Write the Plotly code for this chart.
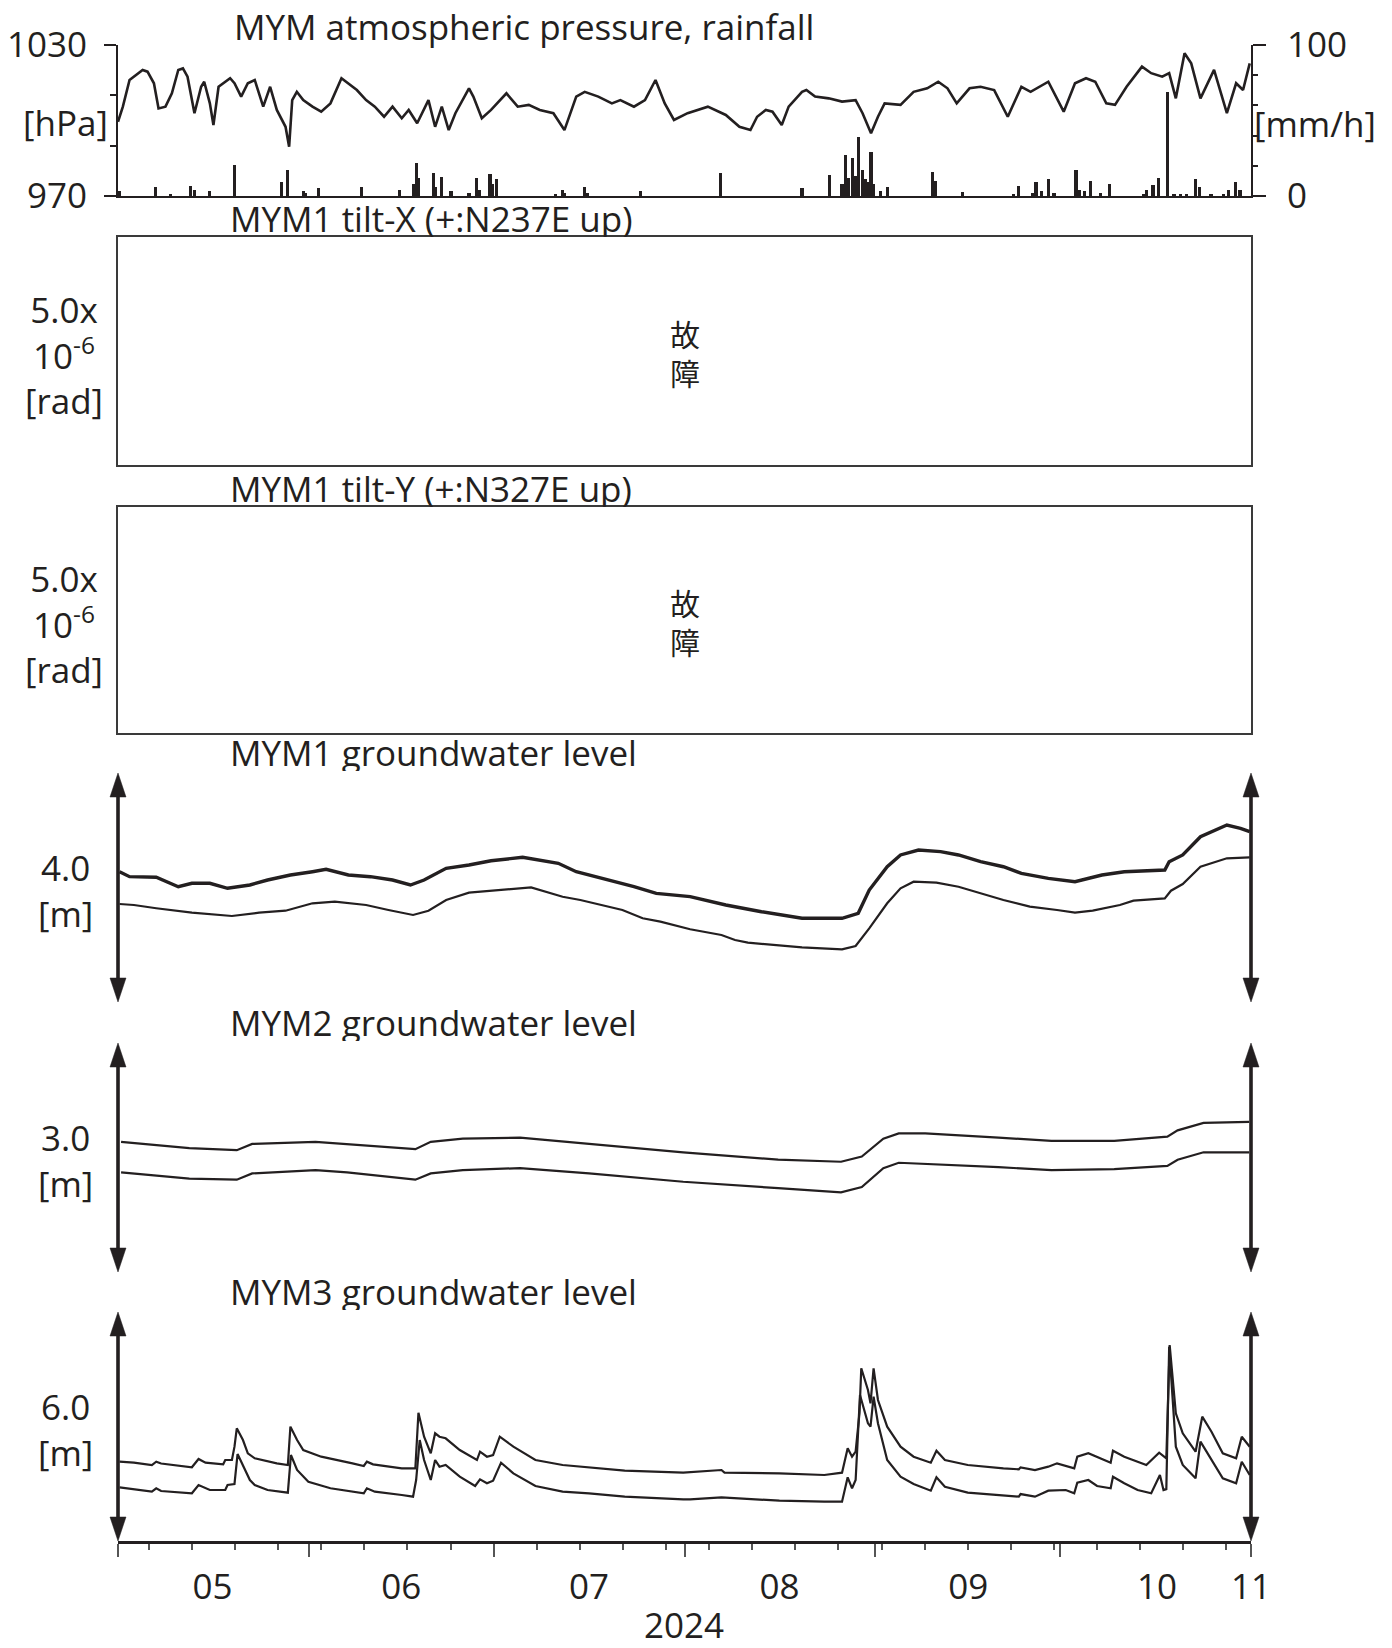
import plotly.graph_objects as go

YEAR = "2024"

# ---------------- calendar axis ----------------
X_START, X_END = "05-01 00:00", "11-01 00:00"
MONTH_STARTS = ["05-01", "06-01", "07-01", "08-01", "09-01", "10-01", "11-01"]
WEEK_TICKS = ["05-06", "05-13", "05-20", "05-27", "06-03", "06-10", "06-17", "06-24",
              "07-01", "07-08", "07-15", "07-22", "07-29", "08-05", "08-12", "08-19",
              "08-26", "09-02", "09-09", "09-16", "09-23", "09-30", "10-07", "10-14",
              "10-21", "10-28"]
MONTH_LABEL_POS = ["05-16 08:00", "06-16 00:00", "07-16 12:00", "08-16 10:00",
                   "09-16 02:00", "10-16 18:00", "11-01 00:00"]
MONTH_LABELS = ["05", "06", "07", "08", "09", "10", "11"]

# ---------------- atmospheric pressure [hPa] ----------------
PRESSURE_TIME = [
    "05-01 00:00", "05-01 19:00", "05-02 21:00", "05-03 14:00", "05-05 00:00", "05-05 19:00",
    "05-06 20:00", "05-07 14:00", "05-08 17:00", "05-09 18:00", "05-10 19:00", "05-11 13:00",
    "05-12 07:00", "05-13 10:00", "05-14 12:00", "05-15 00:00", "05-15 22:00", "05-16 12:00",
    "05-17 08:00", "05-19 05:00", "05-19 22:00", "05-21 00:00", "05-22 02:00", "05-23 05:00",
    "05-24 14:00", "05-25 17:00", "05-26 19:00", "05-28 05:00", "05-28 19:00", "05-29 07:00",
    "05-30 01:00", "05-31 02:00", "06-01 14:00", "06-03 00:00", "06-04 12:00", "06-06 07:00",
    "06-07 10:00", "06-08 19:00", "06-10 07:00", "06-11 17:00", "06-13 05:00", "06-14 14:00",
    "06-16 02:00", "06-17 05:00", "06-18 14:00", "06-20 10:00", "06-21 12:00", "06-22 14:00",
    "06-23 17:00", "06-24 19:00", "06-27 00:00", "06-27 17:00", "06-29 02:00", "06-30 14:00",
    "07-03 02:00", "07-04 22:00", "07-06 17:00", "07-08 12:00", "07-10 17:00", "07-12 12:00",
    "07-14 10:00", "07-15 19:00", "07-18 00:00", "07-20 05:00", "07-21 14:00", "07-23 19:00",
    "07-25 14:00", "07-27 07:00", "07-28 19:00", "07-30 07:00", "08-01 12:00", "08-04 19:00",
    "08-07 17:00", "08-09 22:00", "08-11 17:00", "08-12 19:00", "08-14 05:00", "08-15 07:00",
    "08-16 19:00", "08-17 22:00", "08-20 02:00", "08-20 19:00", "08-22 05:00", "08-24 10:00",
    "08-26 14:00", "08-28 19:00", "08-29 22:00", "08-31 07:00", "09-01 10:00", "09-02 12:00",
    "09-05 02:00", "09-07 05:00", "09-09 10:00", "09-11 05:00", "09-12 17:00", "09-14 05:00",
    "09-16 07:00", "09-18 02:00", "09-20 07:00", "09-22 12:00", "09-24 17:00", "09-26 05:00",
    "09-29 02:00", "10-01 14:00", "10-03 10:00", "10-05 05:00", "10-06 17:00", "10-08 12:00",
    "10-09 22:00", "10-11 19:00", "10-14 07:00", "10-15 19:00", "10-17 14:00", "10-18 17:00",
    "10-19 19:00", "10-21 05:00", "10-22 07:00", "10-23 19:00", "10-26 00:00", "10-28 02:00",
    "10-29 14:00", "10-30 17:00", "10-31 19:00"]
PRESSURE_HPA = [
    999.5, 1005.5, 1016.1, 1017.4, 1020.1, 1019.4,
    1014.8, 1004.8, 1005.5, 1010.8, 1020.1, 1020.7,
    1017.4, 1002.9, 1013.4, 1015.4, 1006.8, 998.2,
    1013.4, 1016.8, 1014.8, 1009.5, 1014.8, 1016.1,
    1005.5, 1013.4, 1004.2, 997.5, 989.6, 1008.1,
    1011.4, 1008.1, 1005.5, 1003.5, 1006.8, 1016.8,
    1014.8, 1012.1, 1008.1, 1005.5, 1001.5, 1005.5,
    1000.9, 1004.2, 998.9, 1008.1, 997.5, 1005.5,
    996.2, 1002.9, 1012.8, 1009.5, 1000.9, 1004.2,
    1010.8, 1005.5, 1006.2, 1004.2, 1002.9, 996.2,
    1009.5, 1011.4, 1009.5, 1006.8, 1008.1, 1005.5,
    1008.1, 1016.1, 1006.8, 1000.2, 1002.9, 1005.5,
    1002.2, 997.5, 996.2, 1001.5, 1004.2, 1003.5,
    998.2, 1005.5, 1011.4, 1012.1, 1009.5, 1008.8,
    1007.5, 1008.1, 1002.9, 994.9, 1001.5, 1006.8,
    1006.2, 1011.4, 1012.8, 1015.4, 1012.8, 1006.8,
    1012.8, 1013.4, 1012.1, 1001.5, 1013.4, 1011.4,
    1015.4, 1003.5, 1014.8, 1016.8, 1015.4, 1006.8,
    1006.2, 1013.4, 1021.4, 1018.8, 1017.4, 1018.8,
    1008.8, 1026.7, 1022.7, 1008.8, 1020.1, 1002.9,
    1014.8, 1012.1, 1022.7]

# ---------------- rainfall [mm/h] ----------------
RAIN_TIME = [
    "05-01 06:00", "05-07 02:00", "05-09 12:00", "05-12 19:00", "05-13 10:00", "05-15 22:00",
    "05-19 22:00", "05-27 12:00", "05-28 14:00", "05-31 02:00", "05-31 12:00", "06-02 12:00",
    "06-09 14:00", "06-15 17:00", "06-17 22:00", "06-18 12:00", "06-18 20:00", "06-21 05:00",
    "06-21 14:00", "06-22 14:00", "06-24 02:00", "06-27 00:00", "06-28 07:00", "06-28 16:00",
    "06-30 10:00", "06-30 18:00", "07-01 10:00", "07-11 00:00", "07-12 05:00", "07-12 14:00",
    "07-15 19:00", "07-16 06:00", "07-24 22:00", "08-06 19:00", "08-20 02:00", "08-24 14:00",
    "08-26 14:00", "08-27 05:00", "08-27 16:00", "08-28 05:00", "08-28 19:00", "08-29 07:00",
    "08-29 22:00", "08-30 10:00", "08-30 19:00", "08-31 07:00", "08-31 18:00", "09-01 19:00",
    "09-02 22:00", "09-10 05:00", "09-10 17:00", "09-15 02:00", "09-23 12:00", "09-24 07:00",
    "09-26 12:00", "09-27 02:00", "09-28 00:00", "09-29 02:00", "09-30 00:00", "10-03 14:00",
    "10-04 02:00", "10-05 00:00", "10-06 00:00", "10-07 12:00", "10-09 02:00", "10-14 12:00",
    "10-15 00:00", "10-16 02:00", "10-16 22:00", "10-18 10:00", "10-19 12:00", "10-20 12:00",
    "10-21 12:00", "10-23 00:00", "10-23 14:00", "10-25 12:00", "10-27 12:00", "10-28 07:00",
    "10-29 10:00", "10-30 05:00"]
RAIN_MMH = [
    3, 6, 1.5, 6.5, 4, 3,
    20.5, 9.5, 17, 3, 2, 5,
    6, 4, 8, 22, 12, 15.5,
    6, 12.5, 3.5, 2, 12, 4,
    14.5, 8, 11, 1.5, 4, 2,
    6, 2, 3.5, 15.5, 5.5, 14,
    8, 27, 12, 25, 13, 39,
    17, 11, 9, 29, 8, 3,
    6, 16, 10, 2.5, 1.5, 6.5,
    2, 9, 3, 11.5, 2, 17.5,
    4, 3, 10, 2, 8, 1.5,
    4, 7, 12, 69, 1, 1,
    1, 11, 6, 1, 1.5, 4,
    9, 4]

# ---------------- MYM1 groundwater level [m, relative] ----------------
MYM1_A_TIME = [
    "05-01 06:00", "05-02 21:00", "05-07 05:00", "05-10 19:00", "05-13 00:00", "05-15 22:00",
    "05-18 19:00", "05-22 10:00", "05-25 07:00", "05-29 00:00", "06-01 14:00", "06-03 19:00",
    "06-07 10:00", "06-11 00:00", "06-14 14:00", "06-17 12:00", "06-19 17:00", "06-23 07:00",
    "06-27 00:00", "06-30 14:00", "07-05 17:00", "07-11 12:00", "07-14 10:00", "07-18 17:00",
    "07-23 19:00", "07-27 10:00", "07-31 00:00", "08-01 22:00", "08-07 17:00", "08-13 12:00",
    "08-20 02:00", "08-26 14:00", "08-29 05:00", "08-31 00:00", "09-02 22:00", "09-05 02:00",
    "09-08 00:00", "09-11 14:00", "09-14 12:00", "09-18 02:00", "09-21 19:00", "09-24 17:00",
    "09-29 02:00", "10-03 10:00", "10-07 19:00", "10-11 10:00", "10-18 00:00", "10-18 17:00",
    "10-20 22:00", "10-23 19:00", "10-28 02:00", "10-30 07:00", "10-31 19:00"]
MYM1_A_M = [
    2.276, 2.189, 2.178, 2.014, 2.073, 2.073,
    1.986, 2.044, 2.131, 2.218, 2.276, 2.317,
    2.218, 2.189, 2.131, 2.044, 2.131, 2.335,
    2.393, 2.468, 2.527, 2.423, 2.276, 2.160,
    2.014, 1.898, 1.869, 1.840, 1.694, 1.577,
    1.462, 1.462, 1.549, 1.956, 2.363, 2.568,
    2.655, 2.626, 2.568, 2.451, 2.363, 2.248,
    2.160, 2.101, 2.218, 2.276, 2.306, 2.451,
    2.568, 2.887, 3.092, 3.034, 2.975]
MYM1_B_TIME = [
    "05-01 06:00", "05-03 14:00", "05-07 05:00", "05-13 00:00", "05-19 12:00", "05-23 22:00",
    "05-28 05:00", "06-01 14:00", "06-05 05:00", "06-10 07:00", "06-13 22:00", "06-17 22:00",
    "06-20 10:00", "06-23 07:00", "06-27 00:00", "06-30 14:00", "07-07 02:00", "07-12 05:00",
    "07-15 02:00", "07-21 22:00", "07-25 05:00", "07-28 02:00", "08-01 22:00", "08-07 00:00",
    "08-09 05:00", "08-11 07:00", "08-20 02:00", "08-26 14:00", "08-28 19:00", "08-31 00:00",
    "09-02 22:00", "09-05 02:00", "09-07 05:00", "09-10 22:00", "09-14 12:00", "09-21 19:00",
    "09-26 02:00", "09-30 12:00", "10-03 10:00", "10-06 07:00", "10-10 17:00", "10-12 22:00",
    "10-18 00:00", "10-19 00:00", "10-20 22:00", "10-23 19:00", "10-28 02:00", "10-31 19:00"]
MYM1_B_M = [
    1.712, 1.694, 1.637, 1.560, 1.502, 1.560,
    1.595, 1.724, 1.752, 1.694, 1.607, 1.520,
    1.595, 1.782, 1.909, 1.944, 2.003, 1.839,
    1.782, 1.607, 1.462, 1.403, 1.270, 1.170,
    1.083, 1.036, 0.955, 0.920, 0.978, 1.287,
    1.724, 1.986, 2.101, 2.084, 2.014, 1.782,
    1.665, 1.607, 1.560, 1.595, 1.694, 1.770,
    1.811, 1.944, 2.061, 2.363, 2.510, 2.527]

# ---------------- MYM2 groundwater level [m, relative] ----------------
MYM2_TIME = [
    "05-01 12:00", "05-12 14:00", "05-20 07:00", "05-22 19:00", "06-02 02:00", "06-07 05:00",
    "06-18 07:00", "06-20 19:00", "06-26 00:00", "07-05 07:00", "07-16 12:00", "07-31 19:00",
    "08-16 05:00", "08-26 10:00", "08-29 19:00", "09-02 07:00", "09-04 19:00", "09-09 02:00",
    "09-21 00:00", "09-29 14:00", "10-09 19:00", "10-18 10:00", "10-20 02:00", "10-24 07:00",
    "10-31 17:00"]
MYM2_A_M = [
    1.706, 1.623, 1.596, 1.678, 1.706, 1.678,
    1.609, 1.706, 1.746, 1.760, 1.678, 1.568,
    1.471, 1.444, 1.513, 1.746, 1.816, 1.816,
    1.760, 1.719, 1.719, 1.774, 1.856, 1.953,
    1.967]
MYM2_B_M = [
    1.306, 1.224, 1.209, 1.292, 1.334, 1.306,
    1.209, 1.292, 1.334, 1.361, 1.292, 1.182,
    1.099, 1.044, 1.114, 1.361, 1.431, 1.416,
    1.374, 1.334, 1.347, 1.389, 1.471, 1.568,
    1.568]

# ---------------- MYM3 groundwater level [m, relative] ----------------
MYM3_A_TIME = [
    "05-01 06:00", "05-03 14:00", "05-06 12:00", "05-07 05:00", "05-08 00:00", "05-13 00:00",
    "05-14 02:00", "05-15 05:00", "05-18 02:00", "05-18 10:00", "05-19 12:00", "05-19 22:00",
    "05-20 07:00", "05-21 07:00", "05-22 02:00", "05-23 05:00", "05-26 19:00", "05-28 14:00",
    "05-29 00:00", "05-30 02:00", "05-31 02:00", "06-03 00:00", "06-08 02:00", "06-09 22:00",
    "06-10 10:00", "06-11 10:00", "06-16 02:00", "06-18 07:00", "06-18 19:00", "06-19 17:00",
    "06-20 19:00", "06-21 12:00", "06-22 05:00", "06-23 05:00", "06-25 12:00", "06-28 07:00",
    "06-28 19:00", "06-29 22:00", "06-30 22:00", "07-02 00:00", "07-04 05:00", "07-07 19:00",
    "07-12 05:00", "07-16 12:00", "07-22 07:00", "07-31 19:00", "08-07 00:00", "08-07 12:00",
    "08-16 10:00", "08-23 17:00", "08-26 14:00", "08-27 12:00", "08-28 05:00", "08-28 19:00",
    "08-29 10:00", "08-29 17:00", "08-30 19:00", "08-31 05:00", "08-31 17:00", "09-01 10:00",
    "09-02 22:00", "09-05 02:00", "09-07 05:00", "09-10 00:00", "09-10 22:00", "09-12 07:00",
    "09-16 00:00", "09-21 19:00", "09-24 07:00", "09-24 14:00", "09-26 22:00", "09-29 02:00",
    "09-30 12:00", "10-03 07:00", "10-03 19:00", "10-05 14:00", "10-09 05:00", "10-09 14:00",
    "10-11 10:00", "10-15 00:00", "10-17 02:00", "10-18 06:00", "10-18 19:00", "10-19 19:00",
    "10-20 22:00", "10-23 00:00", "10-24 02:00", "10-25 14:00", "10-27 10:00", "10-29 14:00",
    "10-30 12:00", "10-31 19:00"]
MYM3_A_M = [
    2.078, 2.052, 1.991, 2.078, 2.030, 1.931,
    2.148, 2.052, 2.009, 2.122, 2.122, 2.471,
    2.953, 2.646, 2.298, 2.166, 2.035, 1.991,
    2.995, 2.646, 2.384, 2.209, 2.035, 1.965,
    2.078, 2.009, 1.905, 1.905, 3.361, 2.733,
    2.298, 2.822, 2.733, 2.691, 2.384, 2.122,
    2.340, 2.209, 2.253, 2.733, 2.471, 2.122,
    1.991, 1.931, 1.842, 1.790, 1.860, 1.790,
    1.773, 1.729, 1.790, 2.428, 2.209, 2.340,
    3.346, 4.525, 3.956, 3.608, 4.525, 3.694,
    2.995, 2.471, 2.209, 2.052, 2.366, 2.122,
    1.991, 1.905, 1.879, 1.930, 1.860, 1.947,
    2.035, 1.905, 2.209, 2.298, 2.052, 2.366,
    2.209, 1.991, 2.314, 2.166, 5.135, 3.346,
    2.822, 2.340, 3.257, 2.864, 2.298, 2.166,
    2.733, 2.471]
MYM3_B_TIME = [
    "05-01 06:00", "05-06 12:00", "05-07 05:00", "05-08 00:00", "05-13 00:00", "05-14 02:00",
    "05-15 22:00", "05-18 10:00", "05-18 19:00", "05-19 22:00", "05-20 10:00", "05-21 07:00",
    "05-22 10:00", "05-23 05:00", "05-25 07:00", "05-28 14:00", "05-29 02:00", "05-30 02:00",
    "05-31 22:00", "06-04 12:00", "06-09 22:00", "06-10 10:00", "06-11 17:00", "06-16 02:00",
    "06-17 22:00", "06-18 10:00", "06-19 00:00", "06-19 17:00", "06-20 19:00", "06-21 12:00",
    "06-22 05:00", "06-23 05:00", "06-25 12:00", "06-28 00:00", "06-28 19:00", "06-29 22:00",
    "06-30 22:00", "07-02 05:00", "07-04 05:00", "07-07 19:00", "07-12 05:00", "07-16 12:00",
    "07-22 07:00", "07-31 19:00", "08-01 22:00", "08-07 00:00", "08-16 10:00", "08-23 17:00",
    "08-26 14:00", "08-27 12:00", "08-28 05:00", "08-28 19:00", "08-29 12:00", "08-30 19:00",
    "08-31 05:00", "08-31 17:00", "09-01 10:00", "09-02 22:00", "09-05 02:00", "09-07 05:00",
    "09-10 00:00", "09-10 22:00", "09-12 07:00", "09-16 00:00", "09-21 19:00", "09-24 07:00",
    "09-24 14:00", "09-26 22:00", "09-29 02:00", "10-01 22:00", "10-03 07:00", "10-03 19:00",
    "10-05 14:00", "10-07 00:00", "10-09 05:00", "10-09 14:00", "10-11 10:00", "10-13 14:00",
    "10-15 19:00", "10-17 05:00", "10-17 19:00", "10-18 06:00", "10-18 17:00", "10-19 19:00",
    "10-20 22:00", "10-23 00:00", "10-23 19:00", "10-25 14:00", "10-27 10:00", "10-29 14:00",
    "10-30 12:00", "10-31 19:00"]
MYM3_B_M = [
    1.407, 1.292, 1.381, 1.310, 1.250, 1.467,
    1.336, 1.336, 1.467, 1.493, 2.279, 1.991,
    1.598, 1.467, 1.336, 1.266, 2.253, 1.860,
    1.554, 1.381, 1.250, 1.381, 1.292, 1.205,
    1.161, 1.598, 2.646, 2.122, 1.598, 2.122,
    1.947, 1.991, 1.685, 1.441, 1.616, 1.512,
    1.580, 2.052, 1.773, 1.441, 1.292, 1.250,
    1.161, 1.091, 1.091, 1.144, 1.056, 1.030,
    1.030, 1.668, 1.381, 1.598, 3.825, 3.084,
    2.995, 3.781, 3.084, 2.122, 1.685, 1.493,
    1.318, 1.668, 1.423, 1.266, 1.179, 1.161,
    1.230, 1.161, 1.318, 1.336, 1.250, 1.528,
    1.598, 1.441, 1.381, 1.685, 1.512, 1.336,
    1.250, 1.729, 1.336, 1.360, 5.091, 2.471,
    1.991, 1.642, 2.602, 2.122, 1.642, 1.512,
    2.078, 1.729]

TITLES = ["MYM atmospheric pressure, rainfall", "MYM1 tilt-X (+:N237E up)",
          "MYM1 tilt-Y (+:N327E up)", "MYM1 groundwater level",
          "MYM2 groundwater level", "MYM3 groundwater level"]
TILT_SCALE = "5.0x<br>10<sup>-6</sup><br>[rad]"
TILT_STATUS = "故<br>障"
GW_SCALE = {4: "4.0<br>[m]", 5: "3.0<br>[m]", 6: "6.0<br>[m]"}
SCALE_SPAN_M = {4: 4.0, 5: 3.0, 6: 6.0}


def dt(values):
    return [f"{YEAR}-{v}" for v in values]


# ---------------- page geometry (pixels) ----------------
W, H = 1392, 1648
XL, XR = 118, 1251
PANEL = {1: (45, 196), 2: (237, 465), 3: (507, 733),
         4: (773, 1002), 5: (1043, 1272), 6: (1312, 1541)}
TITLE_CLIP = {2: 237, 3: 507, 4: 771, 5: 1041, 6: 1310}
INK = "#231f20"
BOX = "#3a3a3a"
FONT = "Open Sans"
CJK = "Noto Sans CJK JP"
FS = 35


def fx(px):
    return px / W


def fy(py):
    return 1 - py / H


def ydom(top, bottom):
    return [fy(bottom), fy(top)]


XDOM = [fx(XL), fx(XR)]
XRANGE = dt([X_START, X_END])

fig = go.Figure()

# pressure line and rainfall bars
fig.add_trace(go.Bar(x=dt(RAIN_TIME), y=RAIN_MMH, width=12 * 3600 * 1000,
                     marker=dict(color=INK, line=dict(width=0)),
                     xaxis="x", yaxis="y7"))
fig.add_trace(go.Scatter(x=dt(PRESSURE_TIME), y=PRESSURE_HPA, mode="lines",
                         line=dict(color=INK, width=2.6), xaxis="x", yaxis="y"))

# empty tilt panels
for k in (2, 3):
    fig.add_trace(go.Scatter(x=[], y=[], xaxis=f"x{k}", yaxis=f"y{k}"))

# groundwater panels
gw = [
    (4, MYM1_A_TIME, MYM1_A_M, 3.4), (4, MYM1_B_TIME, MYM1_B_M, 2.2),
    (5, MYM2_TIME, MYM2_A_M, 2.2), (5, MYM2_TIME, MYM2_B_M, 2.2),
    (6, MYM3_A_TIME, MYM3_A_M, 2.2), (6, MYM3_B_TIME, MYM3_B_M, 2.2),
]
for k, t, v, w in gw:
    fig.add_trace(go.Scatter(x=dt(t), y=v, mode="lines",
                             line=dict(color=INK, width=w),
                             xaxis=f"x{k}", yaxis=f"y{k}"))

hidden = dict(visible=False, fixedrange=True, automargin=False)
tick_font = dict(family=FONT, size=FS, color=INK)

layout = dict(
    width=W, height=H, autosize=False,
    margin=dict(l=0, r=0, t=0, b=0, pad=0, autoexpand=False),
    paper_bgcolor="white", plot_bgcolor="rgba(0,0,0,0)",
    showlegend=False, hovermode=False, bargap=0,
    font=dict(family=FONT, color=INK),
    # panel 1: pressure (left) and rainfall (right)
    xaxis=dict(type="date", domain=XDOM, range=XRANGE, anchor="y", showline=True,
               linewidth=2, linecolor=INK, ticks="", showticklabels=False,
               showgrid=False, zeroline=False, fixedrange=True, automargin=False),
    yaxis=dict(domain=ydom(*PANEL[1]), range=[970, 1030], anchor="x", showline=True,
               linewidth=2, linecolor=INK, ticks="outside", tickvals=[970, 1030],
               ticklen=12, tickwidth=1.5, tickcolor=INK, tickfont=tick_font,
               ticklabelstandoff=10, showgrid=False, zeroline=False, fixedrange=True,
               automargin=False,
               minor=dict(tickvals=[990, 1010], ticks="outside", ticklen=6,
                          tickwidth=1.5, tickcolor=INK, showgrid=False)),
    yaxis7=dict(overlaying="y", side="right", anchor="x", range=[0, 100], showline=True,
                linewidth=2, linecolor=INK, ticks="outside", tickvals=[0, 100],
                ticklen=13, tickwidth=1.5, tickcolor=INK, tickfont=tick_font,
                ticklabelstandoff=14, showgrid=False, zeroline=False, fixedrange=True,
                automargin=False,
                minor=dict(tickvals=[20, 40, 60, 80], ticks="outside", ticklen=5,
                           tickwidth=1.5, tickcolor=INK, showgrid=False)),
)

# tilt panels: plain boxes
for k in (2, 3):
    layout[f"xaxis{k}"] = dict(type="date", domain=XDOM, range=XRANGE, anchor=f"y{k}",
                               showline=True, mirror=True, linewidth=1.6, linecolor=BOX,
                               ticks="", showticklabels=False, showgrid=False,
                               zeroline=False, fixedrange=True, automargin=False)
    layout[f"yaxis{k}"] = dict(domain=ydom(*PANEL[k]), range=[0, 1], anchor=f"x{k}",
                               showline=True, mirror=True, linewidth=1.6, linecolor=BOX,
                               ticks="", showticklabels=False, showgrid=False,
                               zeroline=False, fixedrange=True, automargin=False)

# groundwater panels
for k in (4, 5, 6):
    layout[f"yaxis{k}"] = dict(domain=ydom(*PANEL[k]), range=[0, SCALE_SPAN_M[k]],
                               anchor=f"x{k}", **hidden)
    if k < 6:
        layout[f"xaxis{k}"] = dict(type="date", domain=XDOM, range=XRANGE,
                                   anchor=f"y{k}", **hidden)

layout["xaxis6"] = dict(type="date", domain=XDOM, range=XRANGE, anchor="y6",
                        showline=True, linewidth=3.2, linecolor=INK, ticks="outside",
                        tickvals=dt(MONTH_STARTS), ticklen=13, tickwidth=1.5,
                        tickcolor="#555555", showticklabels=False, showgrid=False,
                        zeroline=False, fixedrange=True, automargin=False,
                        minor=dict(tickvals=dt(WEEK_TICKS), ticks="outside", ticklen=6,
                                   tickwidth=1.5, tickcolor="#555555", showgrid=False))
layout["xaxis7"] = dict(type="date", overlaying="x6", anchor="y6", side="bottom",
                        range=XRANGE, tickmode="array", tickvals=dt(MONTH_LABEL_POS),
                        ticktext=MONTH_LABELS, ticks="", tickfont=tick_font,
                        ticklabelstandoff=22, showline=False, showgrid=False,
                        zeroline=False, fixedrange=True, automargin=False)
fig.add_trace(go.Scatter(x=dt(MONTH_LABEL_POS), y=[None] * len(MONTH_LABEL_POS),
                         mode="markers", xaxis="x7", yaxis="y6"))

# panel titles, clipped at the top edge of their panel
for i, k in enumerate(sorted(TITLE_CLIP)):
    ax = 8 + i
    clip = TITLE_CLIP[k]
    fig.add_trace(go.Scatter(x=[230], y=[14], mode="text", text=[TITLES[k - 1]],
                             textposition="middle right", cliponaxis=True,
                             textfont=dict(family=FONT, size=FS, color=INK),
                             xaxis=f"x{ax}", yaxis=f"y{ax}"))
    layout[f"xaxis{ax}"] = dict(domain=[0, 1], range=[0, W], anchor=f"y{ax}", **hidden)
    layout[f"yaxis{ax}"] = dict(domain=ydom(clip - 50, clip), range=[0, 50],
                                anchor=f"x{ax}", **hidden)

fig.update_layout(**layout)

# double-headed arrows marking the groundwater scale span
shapes = []
HEAD_H, HEAD_W, SHAFT = 24, 8, 3.6
for k in (4, 5, 6):
    top, bottom = PANEL[k]
    for xp in (XL, XR):
        shapes.append(dict(type="line", xref="paper", yref="paper",
                           x0=fx(xp), x1=fx(xp), y0=fy(top + HEAD_H - 2),
                           y1=fy(bottom - HEAD_H + 2),
                           line=dict(color=INK, width=SHAFT)))
        up = (f"M {fx(xp - HEAD_W)},{fy(top + HEAD_H)} L {fx(xp)},{fy(top)} "
              f"L {fx(xp + HEAD_W)},{fy(top + HEAD_H)} Z")
        down = (f"M {fx(xp - HEAD_W)},{fy(bottom - HEAD_H)} L {fx(xp)},{fy(bottom)} "
                f"L {fx(xp + HEAD_W)},{fy(bottom - HEAD_H)} Z")
        for p in (up, down):
            shapes.append(dict(type="path", xref="paper", yref="paper", path=p,
                               fillcolor=INK, line=dict(color=INK, width=0.5)))
fig.update_layout(shapes=shapes)

# text labels
ann = []


def label(text, xp, yp, size=FS, family=FONT, xanchor="center"):
    ann.append(dict(text=text, x=fx(xp), y=fy(yp), xref="paper", yref="paper",
                    xanchor=xanchor, yanchor="middle", align="center", showarrow=False,
                    font=dict(family=family, size=size, color=INK)))


label(TITLES[0], 232, 26, xanchor="left")
label("[hPa]", 65, 123)
label("[mm/h]", 1315, 124)
for off in (0, 269):
    label(TILT_SCALE, 64, 355 + off)
    label(TILT_STATUS, 685, 352 + off, size=30, family=CJK)
for k, yc in ((4, 890), (5, 1160), (6, 1429)):
    label(GW_SCALE[k], 65, yc)
label(YEAR, 684, 1624)
fig.update_layout(annotations=ann)

fig.write_html("out.html")
